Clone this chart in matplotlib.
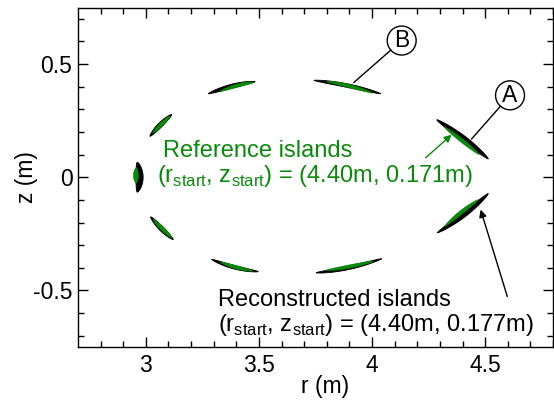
import numpy as np
import matplotlib
matplotlib.use("Agg")
import matplotlib.pyplot as plt
from matplotlib.patches import Polygon, Circle

plt.rcParams["font.family"] = ["Liberation Sans", "DejaVu Sans"]
plt.rcParams["mathtext.fontset"] = "custom"
plt.rcParams["mathtext.rm"] = "Liberation Sans"

# Island chains in the poloidal plane (r, z in metres):
# start, middle and end of each island's ridge, plus its half thickness.
recon_start = [(4.286, 0.254), (4.289, -0.245), (3.743, 0.428), (3.276, 0.369),
               (3.018, 0.181), (2.962, 0.066), (3.021, -0.175), (3.291, -0.363),
               (3.752, -0.422)]
recon_mid = [(4.404, 0.171), (4.407, -0.164), (3.890, 0.405), (3.380, 0.402),
             (3.064, 0.231), (2.972, 0.000), (3.069, -0.227), (3.390, -0.397),
             (3.895, -0.400)]
recon_end = [(4.514, 0.081), (4.514, -0.072), (4.038, 0.369), (3.483, 0.422),
             (3.114, 0.277), (2.962, -0.066), (3.121, -0.275), (3.497, -0.417),
             (4.043, -0.360)]
recon_halfwidth = [0.012, 0.011, 0.008, 0.009, 0.010, 0.016, 0.010, 0.008, 0.008]

ref_start = [(4.322, 0.220), (4.322, -0.216), (3.800, 0.423), (3.328, 0.379),
             (3.030, 0.195), (2.958, 0.042), (3.033, -0.187), (3.330, -0.375),
             (3.798, -0.411)]
ref_mid = [(4.396, 0.163), (4.394, -0.155), (3.902, 0.402), (3.405, 0.405),
           (3.068, 0.233), (2.956, 0.008), (3.073, -0.227), (3.400, -0.398),
           (3.902, -0.394)]
ref_end = [(4.474, 0.100), (4.470, -0.099), (4.003, 0.372), (3.475, 0.419),
           (3.106, 0.270), (2.958, -0.026), (3.114, -0.267), (3.473, -0.414),
           (4.006, -0.371)]
ref_halfwidth = [0.008, 0.008, 0.007, 0.007, 0.008, 0.011, 0.008, 0.007, 0.007]

ref_label = ["Reference islands",
             r"(r$_\mathregular{start}$, z$_\mathregular{start}$) = (4.40m, 0.171m)"]
recon_label = ["Reconstructed islands",
               r"(r$_\mathregular{start}$, z$_\mathregular{start}$) = (4.40m, 0.177m)"]

x_ticks = [3.0, 3.5, 4.0, 4.5]
x_ticklabels = ["3", "3.5", "4", "4.5"]
y_ticks = [-0.5, 0.0, 0.5]
y_ticklabels = ["-0.5", "0", "0.5"]

GREEN = "#0a8a0a"
FS = 16.5
FS_NOTE = 17


def island_polygon(p0, pm, p2, hw, n=80):
    """Lens-shaped outline around a quadratic curve through p0, pm, p2."""
    p0, pm, p2 = map(np.asarray, (p0, pm, p2))
    c = 2 * pm - 0.5 * (p0 + p2)
    t = np.linspace(0, 1, n)[:, None]
    pts = (1 - t) ** 2 * p0 + 2 * (1 - t) * t * c + t ** 2 * p2
    d = 2 * (1 - t) * (c - p0) + 2 * t * (p2 - c)
    d /= np.linalg.norm(d, axis=1, keepdims=True)
    nrm = np.column_stack([-d[:, 1], d[:, 0]])
    w = hw * np.sin(np.pi * t[:, 0]) ** 0.6
    upper = pts + nrm * w[:, None]
    lower = pts - nrm * w[:, None]
    return np.vstack([upper, lower[::-1]])


fig = plt.figure(figsize=(5.54, 4.05), dpi=100)
ax = fig.add_axes([78 / 554, 58 / 405, 475 / 554, 339.5 / 405])

for s, m, e, hw in zip(recon_start, recon_mid, recon_end, recon_halfwidth):
    ax.add_patch(Polygon(island_polygon(s, m, e, hw), closed=True,
                         facecolor="black", edgecolor="black", lw=0.6, zorder=2))
for s, m, e, hw in zip(ref_start, ref_mid, ref_end, ref_halfwidth):
    ax.add_patch(Polygon(island_polygon(s, m, e, hw), closed=True,
                         facecolor=GREEN, edgecolor=GREEN, lw=0.4, zorder=3))

ax.set_xlim(2.7, 4.8)
ax.set_ylim(-0.75, 0.75)
ax.set_xticks(x_ticks)
ax.set_xticklabels(x_ticklabels)
ax.set_yticks(y_ticks)
ax.set_yticklabels(y_ticklabels)
ax.set_xticks(np.arange(2.8, 4.81, 0.1), minor=True)
ax.set_yticks(np.arange(-0.7, 0.71, 0.1), minor=True)
ax.tick_params(which="both", direction="in", top=True, right=True,
               labelsize=FS, width=1, colors="black")
ax.tick_params(which="major", length=7, pad=5)
ax.tick_params(which="minor", length=4)
ax.tick_params(axis="y", which="major", pad=4)
for sp in ax.spines.values():
    sp.set_linewidth(1)

ax.set_xlabel("r (m)", fontsize=FS)
ax.xaxis.label.set_va("center")
ax.xaxis.set_label_coords(0.52, -0.117)
ax.set_ylabel("z (m)", fontsize=FS)
ax.yaxis.label.set_va("center")
ax.yaxis.set_label_coords(-0.109, 0.5)

# Legends written beside the chains
ax.text(3.077, 0.090, ref_label[0], color=GREEN, fontsize=FS_NOTE, ha="left", va="baseline")
ax.text(3.048, -0.022, ref_label[1], color=GREEN, fontsize=FS_NOTE, ha="left", va="baseline")
ax.text(3.319, -0.567, recon_label[0], color="black", fontsize=FS_NOTE, ha="left", va="baseline")
ax.text(3.319, -0.679, recon_label[1], color="black", fontsize=FS_NOTE, ha="left", va="baseline")

ax.annotate("", xy=(4.352, 0.188), xytext=(4.237, 0.086),
            arrowprops=dict(arrowstyle="-|>", color=GREEN, lw=1, mutation_scale=11,
                            shrinkA=0, shrinkB=0))
ax.annotate("", xy=(4.480, -0.143), xytext=(4.598, -0.527),
            arrowprops=dict(arrowstyle="-|>", color="black", lw=1, mutation_scale=11,
                            shrinkA=0, shrinkB=0))

# Circled island markers
for (cx, cy), (lx, ly), letter in [((4.131, 0.604), (3.920, 0.419), "B"),
                                    ((4.610, 0.362), (4.440, 0.169), "A")]:
    rad = 0.064
    ax.add_patch(Circle((cx, cy), rad, facecolor="white", edgecolor="black",
                        lw=1, zorder=4))
    ax.text(cx, cy, letter, fontsize=FS, ha="center", va="center", zorder=5)
    ang = np.arctan2(ly - cy, lx - cx)
    ax.plot([cx + rad * np.cos(ang), lx], [cy + rad * np.sin(ang), ly],
            color="black", lw=1, zorder=4)

fig.savefig("out.png", dpi=100)
